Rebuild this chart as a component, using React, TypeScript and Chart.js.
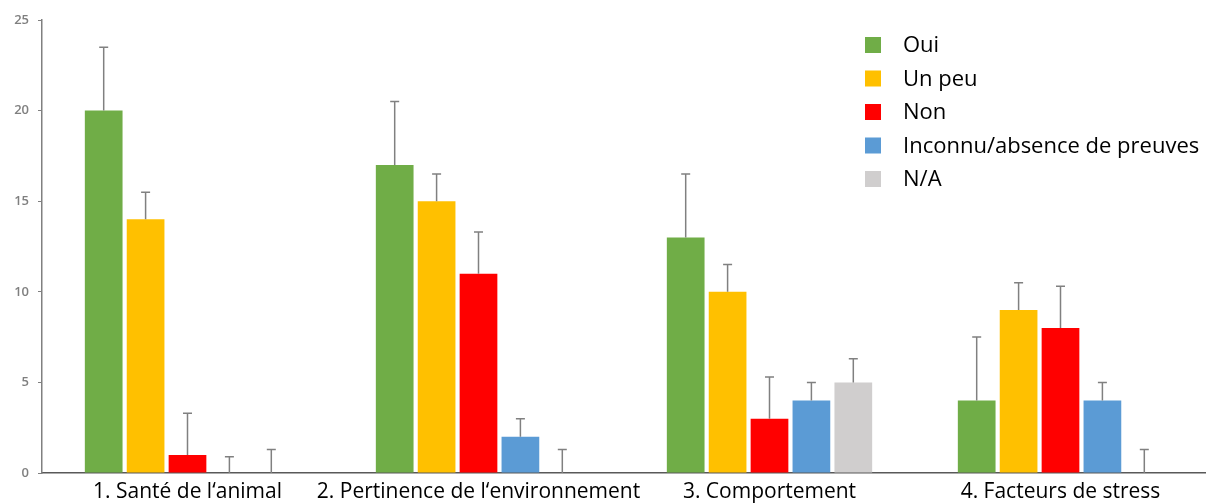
import React, { useEffect, useRef } from "react";
import { Chart, registerables } from "chart.js";

Chart.register(...registerables);

const categories = [
  "1. Santé de l‘animal",
  "2. Pertinence de l‘environnement",
  "3. Comportement",
  "4. Facteurs de stress",
];

const seriesNames = ["Oui", "Un peu", "Non", "Inconnu/absence de preuves", "N/A"];

const ouiValues = [20, 17, 13, 4];
const unPeuValues = [14, 15, 10, 9];
const nonValues = [1, 11, 3, 8];
const inconnuValues = [0, 2, 4, 4];
const naValues = [0, 0, 5, 0];

const ouiErrors = [3.5, 3.5, 3.5, 3.5];
const unPeuErrors = [1.5, 1.5, 1.5, 1.5];
const nonErrors = [2.3, 2.3, 2.3, 2.3];
const inconnuErrors = [0.9, 1.0, 1.0, 1.0];
const naErrors = [1.3, 1.3, 1.3, 1.3];

const yTicks = [0, 5, 10, 15, 20, 25];

const colors = ["#70AD47", "#FFC000", "#FF0000", "#5B9BD5", "#D0CECE"];

const seriesValues = [ouiValues, unPeuValues, nonValues, inconnuValues, naValues];
const seriesErrors = [ouiErrors, unPeuErrors, nonErrors, inconnuErrors, naErrors];

const FONT = "'Open Sans', 'Noto Sans', sans-serif";

const errorBarPlugin = {
  id: "errorBars",
  afterDatasetsDraw(chart: any) {
    const ctx = chart.ctx;
    const yScale = chart.scales.y;
    ctx.save();
    ctx.strokeStyle = "#808080";
    ctx.lineWidth = 1.5;
    chart.data.datasets.forEach((ds: any, di: number) => {
      const meta = chart.getDatasetMeta(di);
      meta.data.forEach((bar: any, i: number) => {
        const v = ds.data[i];
        const e = ds.errors[i];
        const yTop = yScale.getPixelForValue(v + e);
        const yBase = yScale.getPixelForValue(v);
        ctx.beginPath();
        ctx.moveTo(bar.x, yBase);
        ctx.lineTo(bar.x, yTop);
        ctx.moveTo(bar.x - 4.5, yTop);
        ctx.lineTo(bar.x + 4.5, yTop);
        ctx.stroke();
      });
    });
    ctx.restore();
  },
};

const legendPlugin = {
  id: "customLegend",
  afterDraw(chart: any) {
    const ctx = chart.ctx;
    const x0 = chart.width - 341;
    const y0 = 45;
    const step = 33.5;
    ctx.save();
    ctx.font = "22px " + FONT;
    ctx.textBaseline = "middle";
    ctx.textAlign = "left";
    chart.data.datasets.forEach((ds: any, i: number) => {
      const y = y0 + i * step;
      ctx.fillStyle = ds.backgroundColor;
      ctx.fillRect(x0, y - 8, 16, 16);
      ctx.fillStyle = "#000000";
      ctx.fillText(ds.label, x0 + 38, y + 1);
    });
    ctx.restore();
  },
};

export default function App() {
  const canvasRef = useRef<HTMLCanvasElement | null>(null);

  useEffect(() => {
    document.body.style.margin = "0";
    const canvas = canvasRef.current;
    if (!canvas) return;
    const chart = new Chart(canvas, {
      type: "bar",
      data: {
        labels: categories,
        datasets: seriesNames.map((name, i) => ({
          label: name,
          data: seriesValues[i],
          errors: seriesErrors[i],
          backgroundColor: colors[i],
          borderWidth: 0,
          categoryPercentage: 0.72,
          barPercentage: 0.9,
        })) as any,
      },
      options: {
        animation: false,
        responsive: false,
        maintainAspectRatio: false,
        layout: { padding: { top: 20, right: 0, bottom: 0, left: 0 } },
        plugins: {
          legend: { display: false },
          tooltip: { enabled: false },
        },
        scales: {
          x: {
            grid: { display: false, drawTicks: false },
            border: { display: true, color: "#595959", width: 1.5 },
            afterFit(scale: any) {
              scale.height = 30;
            },
            ticks: {
              color: "#000000",
              font: { family: FONT, size: 21, lineHeight: 1.2 },
              padding: 6,
              maxRotation: 0,
              autoSkip: false,
            },
          },
          y: {
            min: 0,
            max: 25,
            afterBuildTicks(scale: any) {
              scale.ticks = yTicks.map((v) => ({ value: v }));
            },
            afterFit(scale: any) {
              scale.width = 42;
            },
            grid: {
              display: true,
              drawOnChartArea: false,
              drawTicks: true,
              tickLength: 4,
              color: "#808080",
            },
            border: { display: true, color: "#808080", width: 1.5 },
            ticks: {
              color: "#7f7f7f",
              font: { family: FONT, size: 13, weight: "600" },
              padding: 9,
              crossAlign: "near",
            },
          },
        },
      },
      plugins: [errorBarPlugin, legendPlugin],
    } as any);
    return () => chart.destroy();
  }, []);

  return (
    <div style={{ width: 1206, height: 503 }}>
      <canvas ref={canvasRef} width={1206} height={503} style={{ display: "block" }} />
    </div>
  );
}
